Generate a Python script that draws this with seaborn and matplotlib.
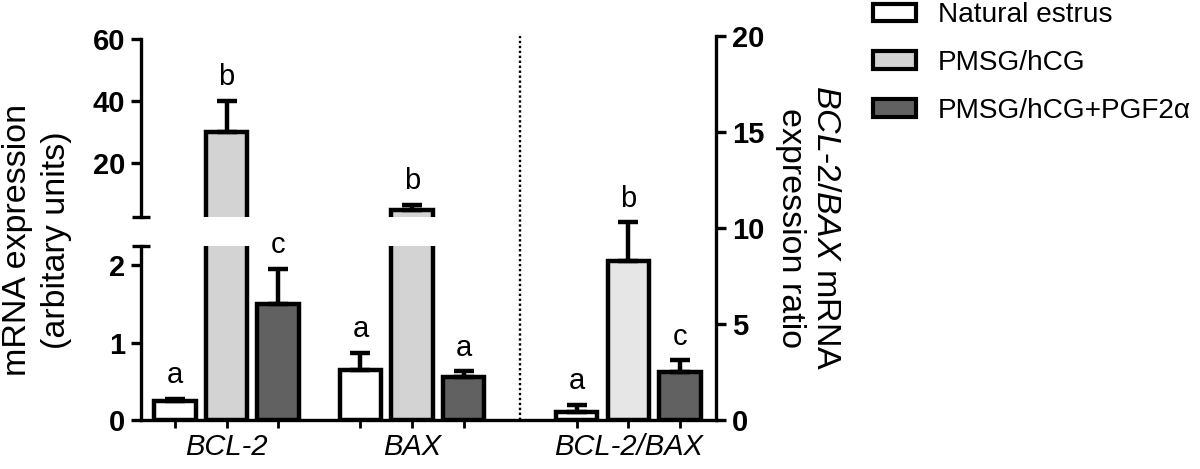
import numpy as np
import pandas as pd
import matplotlib
matplotlib.use('Agg')
import matplotlib.pyplot as plt
import seaborn as sns
from matplotlib.patches import Patch

sns.set_style('ticks')
plt.rcParams['font.family'] = ['Liberation Sans', 'DejaVu Sans']
plt.rcParams['mathtext.fontset'] = 'custom'
plt.rcParams['mathtext.it'] = 'Liberation Sans:italic'
plt.rcParams['mathtext.rm'] = 'Liberation Sans'
plt.rcParams['text.color'] = 'black'
plt.rcParams['axes.edgecolor'] = 'black'
plt.rcParams['xtick.color'] = 'black'
plt.rcParams['ytick.color'] = 'black'

# values (mean + upper error)
groups = ['Natural estrus', 'PMSG/hCG', 'PMSG/hCG+PGF2\u03b1']
genes = ['BCL-2', 'BAX', 'BCL-2/BAX']

bcl2_mean = [0.25, 30.0, 1.5]
bcl2_err = [0.02, 10.0, 0.45]
bcl2_letters = ['a', 'b', 'c']

bax_mean = [0.65, 4.8, 0.55]
bax_err = [0.22, 1.6, 0.08]
bax_letters = ['a', 'b', 'a']

ratio_mean = [0.42, 8.3, 2.5]
ratio_err = [0.36, 2.0, 0.6]
ratio_letters = ['a', 'b', 'c']

colors_left = ['#ffffff', '#d3d3d3', '#616161']
colors_right = ['#ffffff', '#e6e6e6', '#616161']

# layout of groups on the x axis
gene_centers = [1.0, 4.6, 8.8]
offsets = [-1, 0, 1]


def make_df(gene_idx, means, errs, letters):
    return pd.DataFrame({
        'gene': genes[gene_idx],
        'group': groups,
        'pos': [gene_centers[gene_idx] + o for o in offsets],
        'mean': means,
        'err': errs,
        'letter': letters,
    })


left = pd.concat([make_df(0, bcl2_mean, bcl2_err, bcl2_letters),
                  make_df(1, bax_mean, bax_err, bax_letters)], ignore_index=True)
right = make_df(2, ratio_mean, ratio_err, ratio_letters)

W, H = 1200, 469
fig = plt.figure(figsize=(W / 100, H / 100), dpi=100)


def px(x0, y0, x1, y1):
    # pixel box (top-left origin) -> figure fraction
    return [x0 / W, 1 - y1 / H, (x1 - x0) / W, (y1 - y0) / H]


ax_low = fig.add_axes(px(141, 246, 716, 420))
ax_up = fig.add_axes(px(141, 39, 716, 217))
ax_r = fig.add_axes(px(141, 36, 716, 420))
ax_r.patch.set_alpha(0)

xlim = (-0.66, 10.5)
lw = 2.4
low_top, up_bot = 2.25, 2.4

pal_left = dict(zip(groups, colors_left))
pal_right = dict(zip(groups, colors_right))


def draw_errors(ax, df):
    ax.errorbar(df['pos'], df['mean'], yerr=[np.zeros(len(df)), df['err']],
                fmt='none', ecolor='black', elinewidth=3.2, capsize=7, capthick=3.2, zorder=3)


for ax in (ax_low, ax_up):
    sns.barplot(data=left, x='pos', y='mean', hue='group', palette=pal_left,
                native_scale=True, dodge=False, width=0.8, saturation=1,
                errorbar=None, edgecolor='black', linewidth=3.2, legend=False, ax=ax)
draw_errors(ax_low, left)
draw_errors(ax_up, left[left['mean'] + left['err'] > low_top])

sns.barplot(data=right, x='pos', y='mean', hue='group', palette=pal_right,
            native_scale=True, dodge=False, width=0.8, saturation=1,
            errorbar=None, edgecolor='black', linewidth=3.2, legend=False, ax=ax_r)
draw_errors(ax_r, right)

ax_low.set_ylim(0, low_top)
ax_up.set_ylim(up_bot, 60)
ax_r.set_ylim(0, 20)
for ax in (ax_low, ax_up, ax_r):
    ax.set_xlim(*xlim)
    ax.set_xlabel('')
    ax.set_ylabel('')
    for s in ax.spines.values():
        s.set_linewidth(lw)
        s.set_visible(False)

# left broken axis
ax_low.spines['left'].set_visible(True)
ax_up.spines['left'].set_visible(True)
ax_low.set_yticks([0, 1, 2])
ax_up.set_yticks([20, 40, 60])
ax_low.set_yticks([low_top], minor=True)
ax_up.set_yticks([up_bot], minor=True)
for ax in (ax_low, ax_up):
    ax.set_xticks([])
    ax.tick_params(axis='y', which='major', direction='out', length=7.5, width=lw,
                   labelsize=21, pad=4)
    ax.tick_params(axis='y', which='minor', direction='inout', length=13, width=lw)
    for t in ax.get_yticklabels():
        t.set_fontweight('bold')

# right axis and baseline
ax_r.spines['right'].set_visible(True)
ax_r.spines['bottom'].set_visible(True)
ax_r.yaxis.tick_right()
ax_r.set_yticks([0, 5, 10, 15, 20])
ax_r.tick_params(axis='y', direction='out', length=7.5, width=lw, labelsize=21, pad=4)
for t in ax_r.get_yticklabels():
    t.set_fontweight('bold')
ax_r.xaxis.remove_overlapping_locs = False
ax_r.set_xticks(list(left['pos']) + list(right['pos']))
ax_r.set_xticklabels([])
ax_r.set_xticks(gene_centers, minor=True)
ax_r.set_xticklabels(genes, minor=True, fontstyle='italic', fontsize=21)
ax_r.tick_params(axis='x', which='major', direction='out', length=6, width=2)
ax_r.tick_params(axis='x', which='minor', length=0, pad=9)

ax_r.axvline(6.7, color='black', ls=(0, (1, 1.1)), lw=1.7, zorder=0)

# significance letters
for _, row in left.iterrows():
    top = row['mean'] + row['err']
    ax = ax_up if top > low_top else ax_low
    ax.annotate(row['letter'], (row['pos'], top), xytext=(0, 7),
                textcoords='offset points', ha='center', va='bottom',
                fontsize=21, annotation_clip=False)
for _, row in right.iterrows():
    ax_r.annotate(row['letter'], (row['pos'], row['mean'] + row['err']), xytext=(0, 7),
                  textcoords='offset points', ha='center', va='bottom',
                  fontsize=21, annotation_clip=False)

# axis titles
fig.text(37 / W, 1 - 240 / H, 'mRNA expression\n(arbitary units)', rotation=90,
         ha='center', va='center', fontsize=24.5, linespacing=1.3)
fig.text(808 / W, 1 - 228 / H, '$\\mathit{BCL}$-$\\mathit{2/BAX}$ mRNA\nexpression ratio',
         rotation=270, ha='center', va='center', fontsize=24.5, linespacing=1.15)

handles = [Patch(facecolor=c, edgecolor='black', linewidth=3, label=g)
           for g, c in zip(groups, colors_left)]
fig.legend(handles=handles, loc='upper left', bbox_to_anchor=(873 / W, 0.995),
           frameon=False, fontsize=20.2, handlelength=1.55, handleheight=0.6,
           handletextpad=0.75, labelspacing=0.78, borderpad=0, borderaxespad=0)

fig.savefig('out.png', dpi=100)
